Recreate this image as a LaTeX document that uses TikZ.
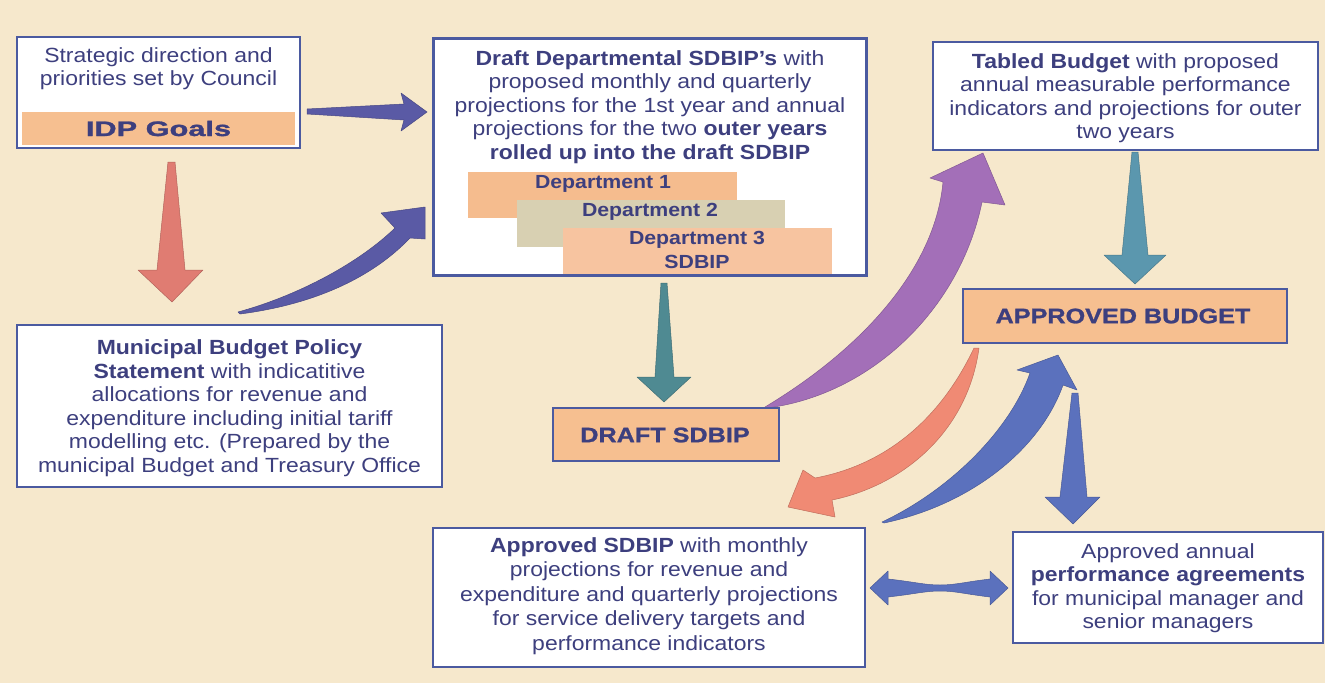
\documentclass[tikz,border=0pt]{standalone}
\usepackage{fontspec}
\setmainfont{Liberation Sans}[FakeStretch=1.12]
\newfontfamily\heavyfont{Liberation Sans Bold}[FakeStretch=1.2,FakeBold=1.2]
\definecolor{bg}{HTML}{F6E8CC}
\definecolor{boxc}{HTML}{4B5AA0}
\definecolor{txtc}{HTML}{3D3F7E}
\definecolor{orng}{HTML}{F6BF90}
\definecolor{deptA}{HTML}{F5BC8E}
\definecolor{deptB}{HTML}{D8D0B2}
\definecolor{deptC}{HTML}{F7C4A0}
\definecolor{arrAc}{HTML}{5A5AA5}
\definecolor{arrRc}{HTML}{E07C72}
\definecolor{arrTc}{HTML}{4F8A92}
\definecolor{arrUc}{HTML}{5B97AE}
\definecolor{arrPc}{HTML}{A36FB8}
\definecolor{arrSc}{HTML}{F08A74}
\definecolor{arrBc}{HTML}{5B71BD}
\tikzset{
  boxw/.style={draw=boxc, line width=1.6pt, fill=white, inner sep=0pt},
  boxo/.style={draw=boxc, line width=1.6pt, fill=orng, inner sep=0pt},
  band/.style={fill=#1, inner sep=0pt},
  lbl/.style={text=txtc, align=center, inner sep=0pt, font=\fontsize{20.5}{23.5}\selectfont},
  deptlbl/.style={text=txtc, align=center, inner sep=0pt, font=\bfseries\fontsize{19}{24.5}\selectfont},
  heavy/.style={text=txtc, inner sep=0pt, font=\heavyfont\fontsize{21}{24}\selectfont},
  blockarrow/.style={fill=#1, draw=#1!80!black, line width=0.5pt, line join=round},
}
\begin{document}
\begin{tikzpicture}[x=1pt,y=-1pt]
\useasboundingbox (0,0) rectangle (1325,683);
\fill[bg] (0,0) rectangle (1325,683);

% ---- block arrows ----
% strategic -> draft departmental
\path[blockarrow=arrAc] (307,109) -- (404,104) -- (401,93) -- (427,112) -- (401,131) -- (404,120) -- (307,114) -- cycle;
% strategic -> municipal budget policy
\path[blockarrow=arrRc] (168,162) -- (175,162) -- (185,270) -- (203,270) -- (172,302) -- (138,270) -- (157,270) -- cycle;
% municipal -> draft departmental (curved)
\path[blockarrow=arrAc] (238,312) .. controls (300,295) and (360,262) .. (395,228) -- (381,213) -- (425,207) -- (425,239) -- (410,238) .. controls (370,280) and (310,305) .. (240,314) -- cycle;
% draft departmental -> draft sdbip
\path[blockarrow=arrTc] (661,283) -- (667,283) -- (674,377) -- (691,377) -- (664,402) -- (637,377) -- (655,377) -- cycle;
% tabled -> approved budget
\path[blockarrow=arrUc] (1132,152) -- (1138,152) -- (1148,255) -- (1166,255) -- (1135,284) -- (1104,255) -- (1122,255) -- cycle;
% draft sdbip -> tabled (curved purple)
\path[blockarrow=arrPc] (765,407) .. controls (860,350) and (935,270) .. (943,182) -- (930,178) -- (983,153) -- (1005,205) -- (982,202) .. controls (960,310) and (870,395) .. (767,408) -- cycle;
% approved budget -> approved sdbip (curved salmon)
\path[blockarrow=arrSc] (979,348) .. controls (968,430) and (905,485) .. (832,500) -- (835,517) -- (788,507) -- (803,470) -- (815,478) .. controls (885,465) and (940,420) .. (974,348) -- cycle;
% approved sdbip -> approved budget (curved blue)
\path[blockarrow=arrBc] (882,522) .. controls (950,490) and (1010,430) .. (1030,373) -- (1017,370) -- (1058,355) -- (1077,390) -- (1063,385) .. controls (1040,450) and (970,505) .. (884,523) -- cycle;
% approved budget -> performance agreements
\path[blockarrow=arrBc] (1072,393) -- (1078,393) -- (1087,497) -- (1100,497) -- (1073,524) -- (1045,497) -- (1060,497) -- cycle;
% approved sdbip <-> performance agreements
\path[blockarrow=arrBc] (870,588) -- (888,571) -- (888,579) .. controls (915,582) and (925,585) .. (940,585) .. controls (955,585) and (965,582) .. (990,579) -- (990,571) -- (1008,588) -- (990,605) -- (990,597) .. controls (965,594) and (955,591) .. (940,591) .. controls (925,591) and (915,594) .. (888,597) -- (888,605) -- cycle;

% ---- boxes ----
% Strategic direction
\node[boxw, minimum width=283pt, minimum height=111pt] (strat) at (158.5,92.5) {};
\node[lbl] (strattext) at (158.5,68.5) {Strategic direction and\\priorities set by Council};
\node[band=orng, minimum width=273pt, minimum height=33pt] (idp) at (158.5,128.5) {};
\node[heavy] (idptext) at (idp) {\scalebox{1.22}[1]{IDP Goals}};

% Draft departmental SDBIPs
\node[boxw, minimum width=432pt, minimum height=236pt] (dept) at (650,157) {};
\node[lbl] (depttext) at (650,107) {\textbf{Draft Departmental SDBIP's} with\\
proposed monthly and quarterly\\
projections for the 1st year and annual\\
projections for the two \textbf{outer years}\\
\textbf{rolled up into the draft SDBIP}};
\node[band=deptA, minimum width=269pt, minimum height=46pt] (d1) at (602.5,195) {};
\node[deptlbl] (d1text) at (603,184) {Department 1};
\node[band=deptB, minimum width=268pt, minimum height=47pt] (d2) at (651,223.5) {};
\node[deptlbl] (d2text) at (650,212) {Department 2};
\node[band=deptC, minimum width=269pt, minimum height=46pt] (d3) at (697.5,250.5) {};
\node[deptlbl] (d3text) at (697,250) {Department 3\\SDBIP};
\draw[boxc, line width=1.6pt] (dept.north west) rectangle (dept.south east);

% Municipal budget policy statement
\node[boxw, minimum width=425pt, minimum height=162pt] (mbps) at (229.5,406) {};
\node[lbl] (mbpstext) at (229.5,408) {\textbf{Municipal Budget Policy}\\
\textbf{Statement} with indicatitive\\
allocations for revenue and\\
expenditure including initial tariff\\
modelling etc. (Prepared by the\\
municipal Budget and Treasury Office};

% Draft SDBIP
\node[boxo, minimum width=226pt, minimum height=53pt] (dsdbip) at (666,434.5) {};
\node[heavy] (dsdbiptext) at (665,435) {DRAFT SDBIP};

% Tabled budget
\node[boxw, minimum width=385pt, minimum height=108pt] (tabled) at (1125.5,96) {};
\node[lbl] (tabledtext) at (1125.5,98) {\textbf{Tabled Budget} with proposed\\
annual measurable performance\\
indicators and projections for outer\\
two years};

% Approved budget
\node[boxo, minimum width=324pt, minimum height=54pt] (abudget) at (1125,316) {};
\node[heavy] (abudgettext) at (1123,316) {APPROVED BUDGET};

% Approved SDBIP
\node[boxw, minimum width=432pt, minimum height=139pt] (asdbip) at (649,597.5) {};
\node[lbl, font=\fontsize{20.5}{24.5}\selectfont] (asdbiptext) at (649,596) {\textbf{Approved SDBIP} with monthly\\
projections for revenue and\\
expenditure and quarterly projections\\
for service delivery targets and\\
performance indicators};

% Performance agreements
\node[boxw, minimum width=310pt, minimum height=111pt] (perf) at (1168,587.5) {};
\node[lbl] (perftext) at (1168,588) {Approved annual\\
\textbf{performance agreements}\\
for municipal manager and\\
senior managers};
\end{tikzpicture}
\end{document}
